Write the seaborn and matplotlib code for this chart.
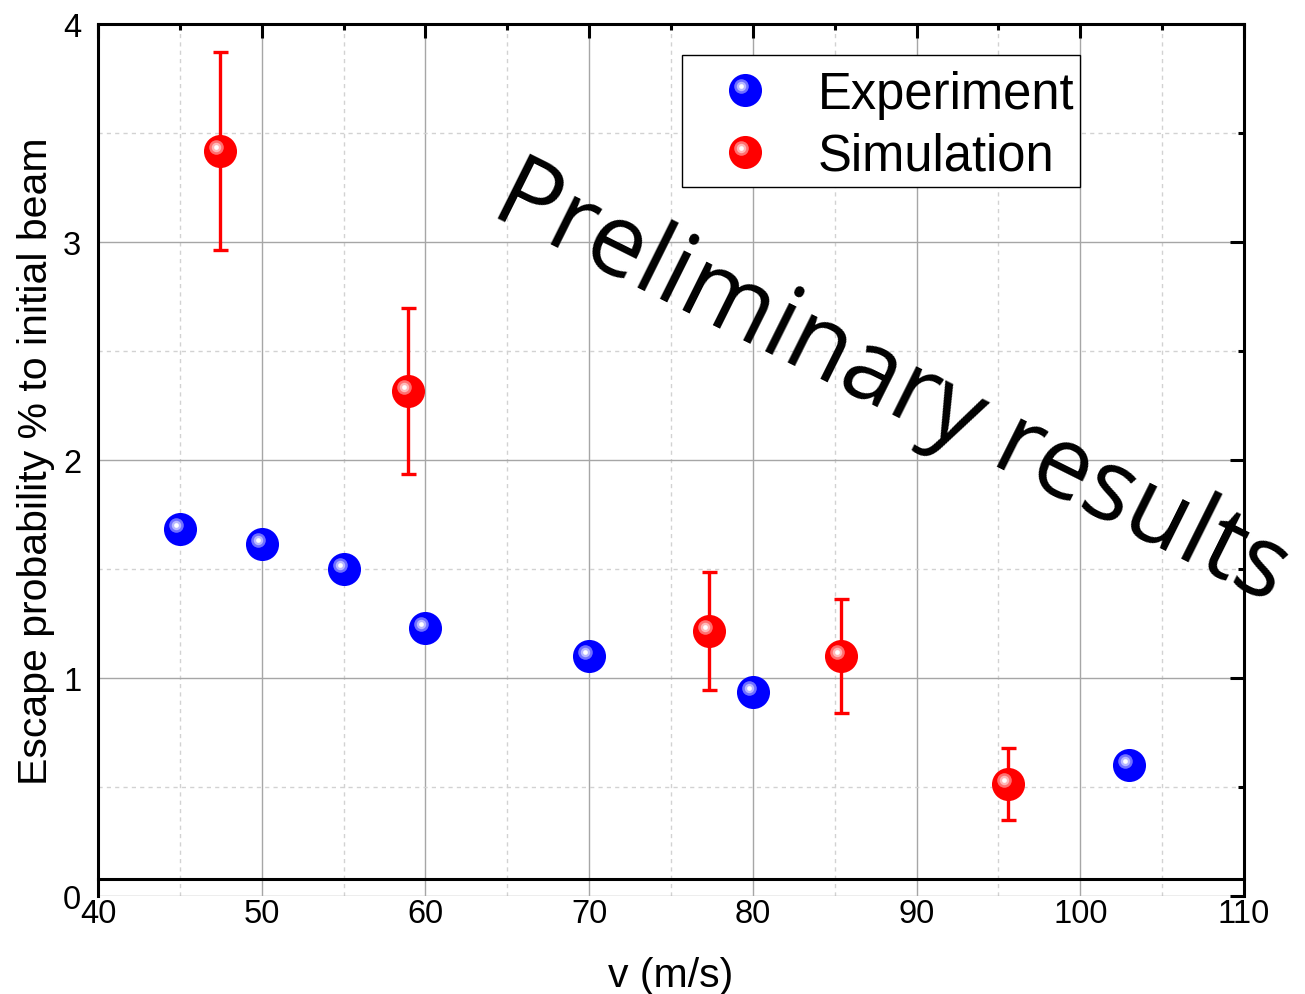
import matplotlib
matplotlib.use("Agg")
import matplotlib.pyplot as plt
import seaborn as sns
import numpy as np
import pandas as pd
from matplotlib.legend_handler import HandlerBase
from matplotlib.lines import Line2D
from matplotlib.patches import Rectangle
from matplotlib.transforms import offset_copy
from matplotlib.ticker import MultipleLocator

# ---- data ----
exp_v = [45, 50, 55, 60, 70, 80, 103]
exp_p = [1.683, 1.615, 1.500, 1.229, 1.100, 0.936, 0.601]

sim_v = [47.45, 58.94, 77.32, 85.38, 95.59]
sim_p = [3.417, 2.317, 1.216, 1.101, 0.514]
sim_err = [0.455, 0.381, 0.271, 0.262, 0.165]

x_ticks = [40, 50, 60, 70, 80, 90, 100, 110]
y_ticks = [0, 1, 2, 3, 4]
series_names = ["Experiment", "Simulation"]

# ---- style ----
sns.set_style("white")
plt.rcParams["font.family"] = ["Liberation Sans", "DejaVu Sans"]
plt.rcParams["text.color"] = "black"
plt.rcParams["axes.labelcolor"] = "black"
plt.rcParams["xtick.color"] = "black"
plt.rcParams["ytick.color"] = "black"

BLUE = "#0000ff"
RED = "#ff0000"
HL = {BLUE: ["#7070ff", "#b8b8ff"], RED: ["#ff7070", "#ffb8b8"]}
BALL = 23.8       # marker diameter (pt)
HL_OFF = 2.9      # highlight offset (pt)
HL_SIZES = [10.5, 6.8, 3.4]

fig = plt.figure(figsize=(13.05, 9.95), dpi=100)
ax = fig.add_axes([0.0751, 0.0985, 0.8782, 0.8764])

ax.set_xlim(40, 110)
ax.set_ylim(0, 4)
ax.set_xticks(x_ticks)
ax.set_yticks(y_ticks)
ax.xaxis.set_minor_locator(MultipleLocator(5))
ax.yaxis.set_minor_locator(MultipleLocator(0.5))

ax.grid(which="major", color="#a6a6a6", lw=1.0, ls="-")
ax.grid(which="minor", color="#d2d2d2", lw=1.0, ls=(0, (3, 3)))
ax.set_axisbelow(True)

for s in ax.spines.values():
    s.set_linewidth(2.2)
    s.set_color("black")
ax.spines["bottom"].set_position(("data", 0.078))

ax.tick_params(which="both", direction="in", top=True, right=True,
               width=2.2, colors="black")
ax.tick_params(which="major", length=10)
ax.tick_params(which="minor", length=4.5)
ax.tick_params(axis="x", labelsize=23.5, pad=13.5)
ax.tick_params(axis="y", labelsize=23.5, pad=12)

# error bars
ax.errorbar(sim_v, sim_p, yerr=sim_err, fmt="none", ecolor=RED,
            elinewidth=2.4, capsize=5.4, capthick=2.4, zorder=3)

# balls
df_exp = pd.DataFrame({"v": exp_v, "p": exp_p})
df_sim = pd.DataFrame({"v": sim_v, "p": sim_p})
sns.scatterplot(data=df_exp, x="v", y="p", color=BLUE, s=BALL**2,
                linewidth=0, ax=ax, zorder=4, legend=False)
sns.scatterplot(data=df_sim, x="v", y="p", color=RED, s=BALL**2,
                linewidth=0, ax=ax, zorder=4, legend=False)

tr = offset_copy(ax.transData, fig=fig, x=-HL_OFF, y=HL_OFF, units="points")
for df, col in [(df_exp, BLUE), (df_sim, RED)]:
    for size, c in zip(HL_SIZES, [HL[col][0], HL[col][1], "white"]):
        ax.scatter(df["v"], df["p"], s=size**2, color=c, linewidth=0,
                   transform=tr, zorder=5)

ax.set_xlabel("v (m/s)", fontsize=29.5)
ax.set_ylabel("Escape probability % to initial beam", fontsize=29.5)
ax.xaxis.set_label_coords(0.5, -0.0688)
ax.yaxis.set_label_coords(-0.0375, 0.5)

# watermark text
ax.text(0.692, 0.587, "Preliminary results", transform=ax.transAxes,
        rotation=-26.5, fontsize=72, family=["Open Sans", "DejaVu Sans"],
        color="black", ha="center", va="center", zorder=6)


class BallHandler(HandlerBase):
    def create_artists(self, legend, orig_handle, xdescent, ydescent,
                       width, height, fontsize, trans):
        cx = width / 2 - xdescent
        cy = height / 2 - ydescent
        col = orig_handle.get_color()
        arts = []
        spec = [(0, 0, BALL, col)] + [
            (-HL_OFF, HL_OFF, sz, c)
            for sz, c in zip(HL_SIZES, [HL[col][0], HL[col][1], "white"])]
        for dx, dy, ms, c in spec:
            l = Line2D([cx + dx], [cy + dy], marker="o", ms=ms, mfc=c,
                       mec="none", ls="none", transform=trans)
            arts.append(l)
        return arts


# legend frame (square, thin black)
frame = Rectangle((0.5096, 0.8131), 0.8569 - 0.5096, 0.9644 - 0.8131,
                  transform=ax.transAxes, facecolor="white", edgecolor="black",
                  lw=1.0, zorder=7)
ax.add_patch(frame)

handles = [Line2D([], [], color=BLUE), Line2D([], [], color=RED)]
leg = ax.legend(handles, series_names, handler_map={Line2D: BallHandler()},
                loc="upper left", bbox_to_anchor=(0.5096, 0.9633),
                borderaxespad=0, frameon=False, fontsize=36.5, borderpad=0.28,
                labelspacing=0.24, handlelength=1.93, handletextpad=0.47)
leg.set_zorder(8)

fig.savefig("out.png", dpi=100)
